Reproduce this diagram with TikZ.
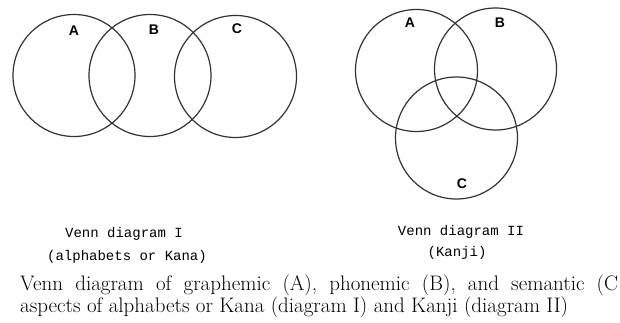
\documentclass[tikz,border=0pt]{standalone}
\usepackage{fontspec}
\setsansfont{Liberation Sans}
\setmonofont{Liberation Mono}

\begin{document}
\begin{tikzpicture}[x=1pt, y=-1pt,
  set/.style={circle, draw=black!80, line width=1.2pt, inner sep=0pt,
    minimum size=122pt},
  lbl/.style={font=\sffamily\bfseries\fontsize{14}{14}\selectfont, inner sep=0pt},
  tt/.style={font=\ttfamily\fontsize{14}{16}\selectfont, inner sep=0pt, anchor=base},
  captext/.style={font=\fontsize{21}{22}\selectfont, inner sep=0pt, anchor=base west}
]
\useasboundingbox (0,0) rectangle (620,322);

\node[set] (a1) at (74,75.5) {};
\node[set] (b1) at (150,75.5) {};
\node[set] (c1) at (235.5,76.5) {};
\node[lbl] (la1) at (74,31) {A};
\node[lbl] (lb1) at (154,30) {B};
\node[lbl] (lc1) at (237,29) {C};

\node[set] (a2) at (416.5,70.5) {};
\node[set] (b2) at (495.5,69) {};
\node[set] (c2) at (456.5,138) {};
\node[lbl] (la2) at (410,23) {A};
\node[lbl] (lb2) at (500,23) {B};
\node[lbl] (lc2) at (462,184) {C};

\node[tt] (t1) at (124,237) {Venn diagram I};
\node[tt] (s1) at (127,260) {(alphabets or Kana)};
\node[tt] (t2) at (461,235) {Venn diagram II};
\node[tt] (s2) at (457,256) {(Kanji)};

\node[captext] (cap1) at (20,290)
  {\makebox[598pt][s]{Venn diagram of graphemic (A), phonemic (B), and semantic (C}};
\node[captext] (cap2) at (20,312)
  {aspects of alphabets or Kana (diagram I) and Kanji (diagram II)};
\end{tikzpicture}
\end{document}
